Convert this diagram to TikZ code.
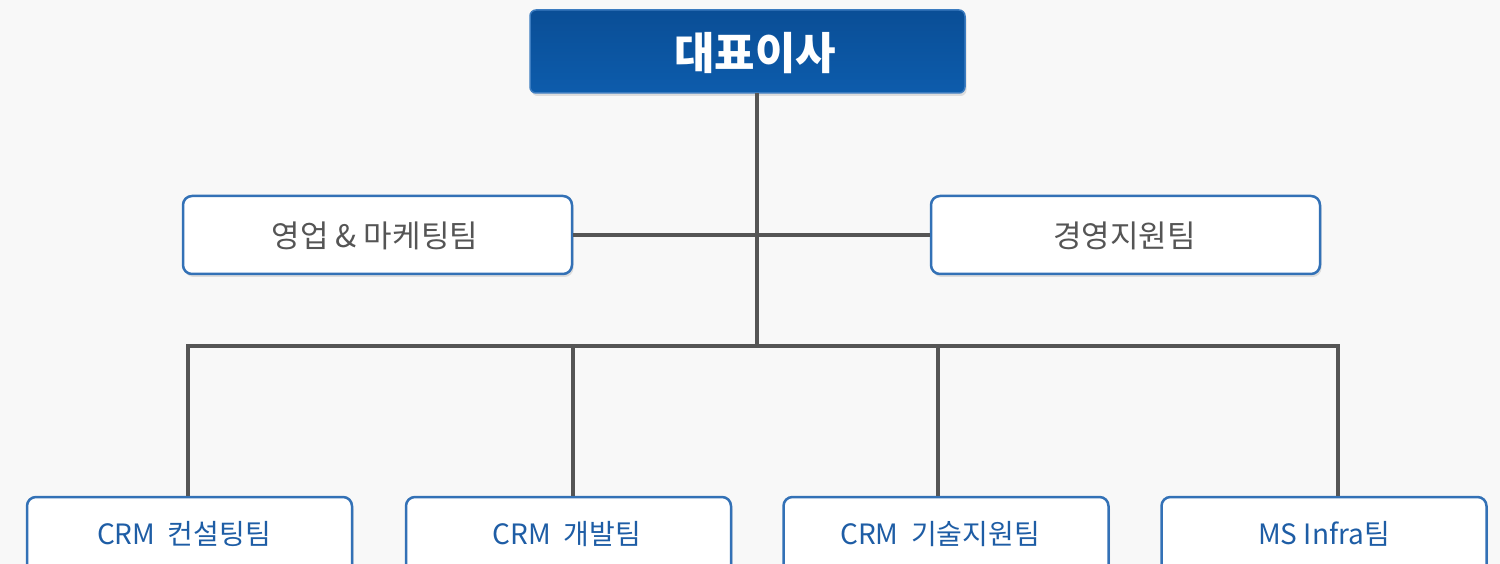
\documentclass[tikz,border=0pt]{standalone}
\usepackage{fontspec}
\newfontfamily\kr{Noto Sans CJK KR}
\usetikzlibrary{shadows}
\definecolor{bgc}{HTML}{F8F8F8}
\definecolor{ceotop}{HTML}{0A4E96}
\definecolor{ceobot}{HTML}{0D5CAC}
\definecolor{ceoedge}{HTML}{3C7CC0}
\definecolor{boxedge}{HTML}{3371B6}
\definecolor{midtext}{HTML}{555555}
\definecolor{bottext}{HTML}{1E5DA5}
\definecolor{linec}{HTML}{555555}
\tikzset{
  softshadow/.style={drop shadow={shadow xshift=1.5pt, shadow yshift=-3pt, opacity=0.18, fill=black!60}},
  ceobox/.style={draw=ceoedge, line width=1.5pt, rounded corners=6pt, top color=ceotop, bottom color=ceobot, minimum width=435pt, minimum height=83pt, inner sep=0pt, softshadow},
  teambox/.style={draw=boxedge, line width=2.5pt, rounded corners=9pt, fill=white, inner sep=0pt, softshadow},
  midbox/.style={teambox, minimum width=389pt, minimum height=78pt},
  botbox/.style={teambox, minimum width=325pt, minimum height=78pt},
  ceotxt/.style={text=white, font=\kr\fontsize{44}{48}\selectfont\bfseries},
  midtxt/.style={text=midtext, font=\kr\fontsize{31}{35}\selectfont},
  bottxt/.style={text=bottext, font=\kr\fontsize{28}{32}\selectfont},
  conn/.style={draw=linec, line width=4pt},
}
\begin{document}
\begin{tikzpicture}[x=1pt,y=-1pt]
\fill[bgc] (0,0) rectangle (1500,564);
\useasboundingbox (0,0) rectangle (1500,564);

\coordinate (trunktop) at (757,93);
\coordinate (bus) at (757,346);
\coordinate (busL) at (188,346);
\coordinate (busR) at (1338,346);
\coordinate (d2) at (573,346);
\coordinate (d3) at (938,346);

\node[ceobox] (ceo) at (747.5,51.5) {};
\node[ceotxt] (ceotext) at (755,53) {대표이사};

\node[midbox] (sales) at (377.5,235) {};
\node[midtxt] (salestext) at (375,236) {영업 \& 마케팅팀};
\node[midbox] (mgmt) at (1125.5,235) {};
\node[midtxt] (mgmttext) at (1124.5,236) {경영지원팀};

\node[botbox] (b1) at (189.5,536) {};
\node[bottxt] (b1text) at (184,534) {CRM\ \ 컨설팅팀};
\node[botbox] (b2) at (568.5,536) {};
\node[bottxt] (b2text) at (567,534) {CRM\ \ 개발팀};
\node[botbox] (b3) at (946,536) {};
\node[bottxt] (b3text) at (940,534) {CRM\ \ 기술지원팀};
\node[botbox] (b4) at (1324,536) {};
\node[bottxt] (b4text) at (1324,534) {MS Infra팀};

\draw[conn] (trunktop) -- (bus);
\draw[conn] (sales.east) -- (mgmt.west);
\draw[conn,line cap=rect] (busL) -- (busR);
\draw[conn] (busL) -- (busL |- b1.north);
\draw[conn] (d2) -- (d2 |- b2.north);
\draw[conn] (d3) -- (d3 |- b3.north);
\draw[conn] (busR) -- (busR |- b4.north);
\end{tikzpicture}
\end{document}
